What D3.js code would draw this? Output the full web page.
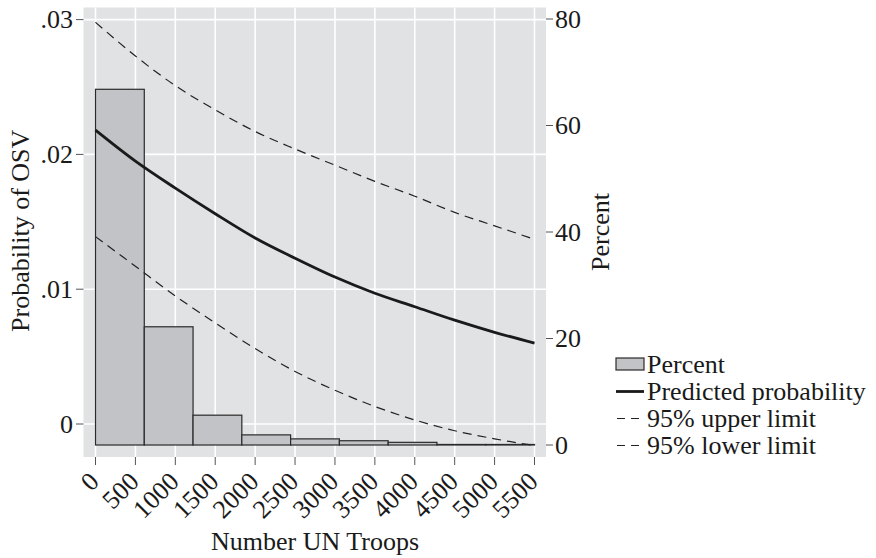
<!DOCTYPE html>
<html>
<head>
<meta charset="utf-8">
<script src="https://cdn.jsdelivr.net/npm/d3@7/dist/d3.min.js"></script>
<style>
  body { margin: 0; background: #ffffff; }
  svg { display: block; }
  text { font-family: "Liberation Serif", "Times New Roman", serif; fill: #1a1a1a; }
</style>
</head>
<body>
<script>
// ---- data ----
const troops = [0, 500, 1000, 1500, 2000, 2500, 3000, 3500, 4000, 4500, 5000, 5500];
const predicted = [0.0218, 0.0195, 0.0175, 0.0156, 0.0138, 0.0123, 0.0109, 0.0097, 0.0087, 0.0077, 0.0068, 0.0060];
const upperLimit = [0.0298, 0.0273, 0.0251, 0.0233, 0.0217, 0.0204, 0.0192, 0.0180, 0.0169, 0.0157, 0.0147, 0.0137];
const lowerLimit = [0.0139, 0.0117, 0.0095, 0.0075, 0.0056, 0.0039, 0.0025, 0.0013, 0.0003, -0.0005, -0.0011, -0.0016];
const binEdges = [0, 611.1, 1222.2, 1833.3, 2444.4, 3055.6, 3666.7, 4277.8, 4888.9, 5500];
const binPercent = [66.8, 22.2, 5.6, 1.9, 1.15, 0.8, 0.5, 0.1, 0.1];
const xTicks = [0, 500, 1000, 1500, 2000, 2500, 3000, 3500, 4000, 4500, 5000, 5500];
const leftTicks = [0, 0.01, 0.02, 0.03];
const leftTickLabels = ["0", ".01", ".02", ".03"];
const rightTicks = [0, 20, 40, 60, 80];
const legendLabels = ["Percent", "Predicted probability", "95% upper limit", "95% lower limit"];

const W = 876, H = 558;
const svg = d3.select("body").append("svg").attr("width", W).attr("height", H);

const plot = { left: 83.5, right: 546, top: 7.5, bottom: 457 };

const x = d3.scaleLinear().domain([0, 5500]).range([95.5, 534.5]);
const yL = d3.scaleLinear().domain([0, 0.03]).range([424, 19.6]);
const yR = d3.scaleLinear().domain([0, 80]).range([445, 19]);

const FS = 26;

// background
svg.append("rect")
  .attr("x", plot.left).attr("y", plot.top)
  .attr("width", plot.right - plot.left).attr("height", plot.bottom - plot.top)
  .attr("fill", "#e1e2e4");

// grid
const grid = svg.append("g").attr("stroke", "#ffffff").attr("stroke-width", 1.6);
grid.selectAll("line.v").data(xTicks).join("line")
  .attr("x1", d => x(d)).attr("x2", d => x(d))
  .attr("y1", plot.top).attr("y2", plot.bottom);
grid.selectAll("line.h").data(leftTicks).join("line")
  .attr("x1", plot.left).attr("x2", plot.right)
  .attr("y1", d => yL(d)).attr("y2", d => yL(d));

// histogram bars
const bins = binPercent.map((p, i) => ({ x0: binEdges[i], x1: binEdges[i + 1], p }));
svg.append("g").selectAll("rect").data(bins).join("rect")
  .attr("x", d => x(d.x0)).attr("width", d => x(d.x1) - x(d.x0))
  .attr("y", d => yR(d.p)).attr("height", d => yR(0) - yR(d.p))
  .attr("fill", "#c2c3c6").attr("stroke", "#2a2a2a").attr("stroke-width", 1.2);

// lines
const lineGen = vals => d3.line()
  .x((d, i) => x(troops[i]))
  .y(d => yL(d))
  .curve(d3.curveMonotoneX)(vals);

svg.append("path").attr("d", lineGen(upperLimit))
  .attr("fill", "none").attr("stroke", "#222").attr("stroke-width", 1.2)
  .attr("stroke-dasharray", "9,6");
svg.append("path").attr("d", lineGen(lowerLimit))
  .attr("fill", "none").attr("stroke", "#222").attr("stroke-width", 1.2)
  .attr("stroke-dasharray", "9,6");
svg.append("path").attr("d", lineGen(predicted))
  .attr("fill", "none").attr("stroke", "#1a1a1a").attr("stroke-width", 2.8);

// left axis
const leftAxis = svg.append("g");
leftAxis.selectAll("line").data(leftTicks).join("line")
  .attr("x1", 76).attr("x2", plot.left)
  .attr("y1", d => yL(d)).attr("y2", d => yL(d))
  .attr("stroke", "#555").attr("stroke-width", 1);
leftAxis.selectAll("text").data(leftTicks).join("text")
  .attr("x", 73).attr("y", d => yL(d)).attr("dy", "0.33em")
  .attr("text-anchor", "end").attr("font-size", FS)
  .text((d, i) => leftTickLabels[i]);
svg.append("text")
  .attr("transform", `translate(29,${(yL(0) + yL(0.03)) / 2 + 9}) rotate(-90)`)
  .attr("text-anchor", "middle").attr("font-size", FS)
  .text("Probability of OSV");

// right axis
const rightAxis = svg.append("g");
rightAxis.selectAll("line").data(rightTicks).join("line")
  .attr("x1", plot.right).attr("x2", 553)
  .attr("y1", d => yR(d)).attr("y2", d => yR(d))
  .attr("stroke", "#555").attr("stroke-width", 1);
rightAxis.selectAll("text").data(rightTicks).join("text")
  .attr("x", 555).attr("y", d => yR(d)).attr("dy", "0.33em")
  .attr("text-anchor", "start").attr("font-size", FS)
  .text(d => d);
svg.append("text")
  .attr("transform", `translate(609,232) rotate(-90)`)
  .attr("text-anchor", "middle").attr("font-size", FS)
  .text("Percent");

// x axis
const xAxis = svg.append("g");
xAxis.selectAll("line").data(xTicks).join("line")
  .attr("x1", d => x(d)).attr("x2", d => x(d))
  .attr("y1", plot.bottom).attr("y2", 465)
  .attr("stroke", "#555").attr("stroke-width", 1);
xAxis.selectAll("text").data(xTicks).join("text")
  .attr("transform", d => `translate(${x(d) + 5},483) rotate(-45)`)
  .attr("text-anchor", "end").attr("font-size", FS)
  .text(d => d);
svg.append("text")
  .attr("x", (x(0) + x(5500)) / 2).attr("y", 550)
  .attr("text-anchor", "middle").attr("font-size", FS)
  .text("Number UN Troops");

// legend
const lg = svg.append("g");
const rowBase = [373, 400, 427, 454];
const lx0 = 616, lx1 = 644;
lg.append("rect").attr("x", lx0).attr("y", rowBase[0] - 15).attr("width", lx1 - lx0).attr("height", 12)
  .attr("fill", "#c2c3c6").attr("stroke", "#2a2a2a").attr("stroke-width", 1.2);
lg.append("line").attr("x1", lx0).attr("x2", lx1).attr("y1", rowBase[1] - 8.5).attr("y2", rowBase[1] - 8.5)
  .attr("stroke", "#1a1a1a").attr("stroke-width", 2.8);
[2, 3].forEach(i => {
  lg.append("line").attr("x1", lx0 + 1).attr("x2", lx1 - 4).attr("y1", rowBase[i] - 8.5).attr("y2", rowBase[i] - 8.5)
    .attr("stroke", "#222").attr("stroke-width", 1.2).attr("stroke-dasharray", "8,6");
});
lg.selectAll("text").data(legendLabels).join("text")
  .attr("x", 647).attr("y", (d, i) => rowBase[i])
  .attr("font-size", FS)
  .text(d => d);
</script>
</body>
</html>
